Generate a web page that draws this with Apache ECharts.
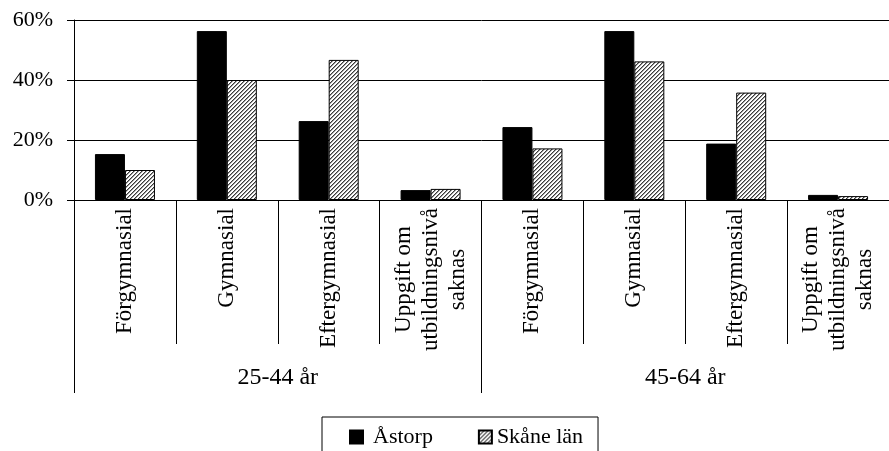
<!DOCTYPE html>
<html>
<head>
<meta charset="utf-8">
<script src="https://cdn.jsdelivr.net/npm/echarts@6/dist/echarts.min.js"></script>
<style>
  html, body { margin: 0; padding: 0; background: #fff; }
  #chart { width: 889px; height: 451px; }
</style>
</head>
<body>
<div id="chart"></div>
<script>
// Education level by age group, Åstorp vs Skåne län (share of population, %)
const categories = [
  'Förgymnasial', 'Gymnasial', 'Eftergymnasial', 'Uppgift om\nutbildningsnivå\nsaknas',
  'Förgymnasial', 'Gymnasial', 'Eftergymnasial', 'Uppgift om\nutbildningsnivå\nsaknas'
];
const ageGroups = ['25-44 år', '45-64 år'];
const seriesNames = ['Åstorp', 'Skåne län'];
const astorp = [15.3, 56.3, 26.3, 3.3, 24.3, 56.3, 18.8, 1.7];
const skane  = [10.0, 40.0, 46.7, 3.7, 17.2, 46.2, 35.8, 1.3];
const yMin = 0, yMax = 60, yStep = 20;

const FONT = "'Liberation Serif', 'Times New Roman', serif";

// diagonal hatch tile for the regional series
function hatchPattern() {
  const size = 4;
  const c = document.createElement('canvas');
  c.width = size; c.height = size;
  const ctx = c.getContext('2d');
  ctx.fillStyle = '#ffffff';
  ctx.fillRect(0, 0, size, size);
  for (let x = 0; x < size; x++) {
    for (let y = 0; y < size; y++) {
      const k = (x + y) % size;
      if (k === 0) { ctx.fillStyle = '#3a3a3a'; ctx.fillRect(x, y, 1, 1); }
      else if (k === 1) { ctx.fillStyle = '#9c9c9c'; ctx.fillRect(x, y, 1, 1); }
    }
  }
  return { image: c, repeat: 'repeat' };
}

const chart = echarts.init(document.getElementById('chart'), null, { renderer: 'canvas' });

chart.setOption({
  animation: false,
  backgroundColor: '#ffffff',
  textStyle: { fontFamily: FONT, color: '#000' },
  grid: { left: 74, top: 20, width: 822, height: 180, containLabel: false },
  legend: {
    left: 322,
    top: 417,
    orient: 'horizontal',
    padding: [9, 15, 30, 27],
    itemGap: 45,
    itemWidth: 13,
    itemHeight: 13,
    icon: 'rect',
    borderColor: '#000',
    borderWidth: 1,
    data: [
      { name: seriesNames[0], textStyle: { padding: [0, 0, 0, 5] } },
      { name: seriesNames[1], textStyle: { padding: [0, 0, 0, 0] } }
    ],
    textStyle: { fontFamily: FONT, fontSize: 22, color: '#000' }
  },
  xAxis: [
    {
      type: 'category',
      data: categories,
      position: 'bottom',
      axisLine: { show: true, lineStyle: { color: '#000', width: 1 } },
      axisTick: { show: true, interval: 0, length: 144, lineStyle: { color: '#000', width: 1 } },
      axisLabel: {
        interval: 0,
        rotate: 90,
        margin: 8,
        fontFamily: FONT,
        fontSize: 23,
        color: '#000',
        formatter: function (v) {
          return v.split('\n').map(function (s) { return '{c|' + s + '}'; }).join('\n');
        },
        rich: {
          c: { align: 'center', fontFamily: FONT, fontSize: 23, color: '#000', lineHeight: 27 }
        }
      }
    },
    {
      type: 'category',
      data: ageGroups,
      position: 'bottom',
      axisLine: { show: false },
      axisTick: { show: true, interval: 0, length: 193, lineStyle: { color: '#000', width: 1 } },
      axisLabel: { interval: 0, margin: 166, fontFamily: FONT, fontSize: 24, color: '#000' }
    }
  ],
  yAxis: {
    type: 'value',
    min: yMin,
    max: yMax,
    interval: yStep,
    axisLine: { show: true, lineStyle: { color: '#000', width: 1 } },
    axisTick: { show: true, inside: false, length: 7, lineStyle: { color: '#000', width: 1 } },
    splitLine: { show: true, lineStyle: { color: '#000', width: 1 } },
    axisLabel: { margin: 21, fontFamily: FONT, fontSize: 22, color: '#000', formatter: '{value}%' }
  },
  series: [
    {
      name: seriesNames[0],
      type: 'bar',
      data: astorp,
      barWidth: 30,
      barGap: '0%',
      itemStyle: { color: '#000', borderColor: '#000', borderWidth: 1 }
    },
    {
      name: seriesNames[1],
      type: 'bar',
      data: skane,
      barWidth: 30,
      barGap: '0%',
      itemStyle: { color: hatchPattern(), borderColor: '#000', borderWidth: 1 }
    }
  ]
});
</script>
</body>
</html>
